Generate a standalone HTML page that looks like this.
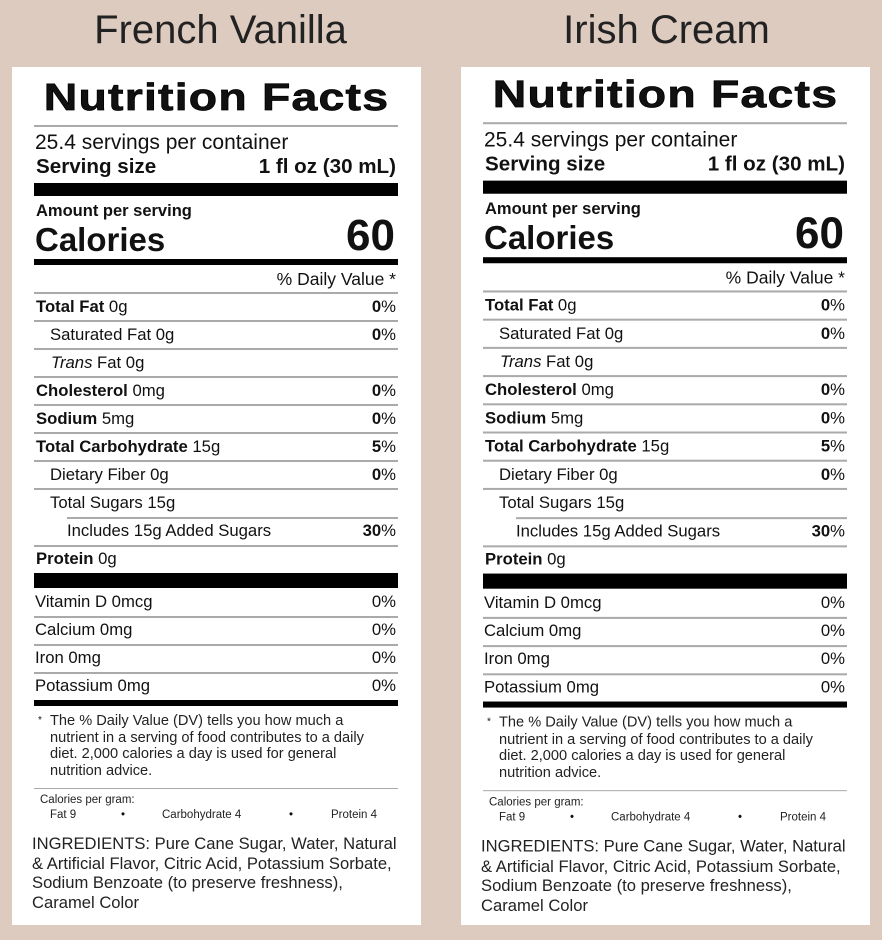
<!DOCTYPE html>
<html><head><meta charset="utf-8"><style>
*{margin:0;padding:0;box-sizing:border-box}
body{width:882px;height:937px;background:#dccbbe;position:relative;overflow:hidden;font-family:"Liberation Sans",Arial,sans-serif;color:#111}
.h{position:absolute;top:8px;width:441px;text-align:center;font-size:40px;line-height:44px;color:#222;font-weight:normal}
.box{position:absolute;top:67px;width:409px;height:858px;background:#fff}
.c{position:absolute;left:0;top:0;width:441px;height:937px}
.t{position:absolute;white-space:nowrap;height:30px;line-height:30px}
.r{right:45px;text-align:right}
.ln{position:absolute;left:34px;width:364px;height:1.5px;background:#aaa}
.bar{position:absolute;left:34px;width:364px;background:#000}
.f16{font-size:16.7px}
.nf{left:0;width:433px;text-align:center;top:80px;height:36px;line-height:36px;font-size:38px;font-weight:900;letter-spacing:1px;transform:scaleX(1.22);-webkit-text-stroke:0.7px #000}
b{font-weight:bold}
</style></head><body>
<div class="h" style="left:0">French Vanilla</div>
<div class="h" style="left:446px">Irish Cream</div>
<div class="box" style="left:12px"></div>
<div class="box" style="left:461px"></div>

<div class="c" id="L">
<div class="t nf">Nutrition Facts</div>
<div class="ln" style="top:125px"></div>
<div class="t" style="left:35px;top:128px;font-size:21px">25.4 servings per container</div>
<div class="t" style="left:36px;top:152px;font-size:20.6px;font-weight:bold">Serving size</div>
<div class="t r" style="top:152px;font-size:20.6px;font-weight:bold">1 fl oz (30 mL)</div>
<div class="bar" style="top:183px;height:13px"></div>
<div class="t" style="left:36px;top:196px;font-size:16.5px;font-weight:bold">Amount per serving</div>
<div class="t" style="left:35px;top:225px;font-size:33px;font-weight:bold">Calories</div>
<div class="t r" style="top:218px;height:36px;line-height:36px;font-size:44px;font-weight:bold;right:46px">60</div>
<div class="bar" style="top:259px;height:6px"></div>
<div class="t r" style="top:264px;font-size:17.5px">% Daily Value *</div>
<div class="ln" style="top:292px"></div>

<div class="t f16" style="left:36px;top:292px"><b>Total Fat</b> 0g</div><div class="t r f16" style="top:292px"><b>0</b>%</div>
<div class="ln" style="top:320px"></div>
<div class="t f16" style="left:50px;top:320px">Saturated Fat 0g</div><div class="t r f16" style="top:320px"><b>0</b>%</div>
<div class="ln" style="top:348px"></div>
<div class="t f16" style="left:51px;top:348px"><i>Trans</i> Fat 0g</div>
<div class="ln" style="top:376px"></div>
<div class="t f16" style="left:36px;top:376px"><b>Cholesterol</b> 0mg</div><div class="t r f16" style="top:376px"><b>0</b>%</div>
<div class="ln" style="top:404px"></div>
<div class="t f16" style="left:36px;top:404px"><b>Sodium</b> 5mg</div><div class="t r f16" style="top:404px"><b>0</b>%</div>
<div class="ln" style="top:432px"></div>
<div class="t f16" style="left:36px;top:432px"><b>Total Carbohydrate</b> 15g</div><div class="t r f16" style="top:432px"><b>5</b>%</div>
<div class="ln" style="top:460px"></div>
<div class="t f16" style="left:50px;top:460px">Dietary Fiber 0g</div><div class="t r f16" style="top:460px"><b>0</b>%</div>
<div class="ln" style="top:488px"></div>
<div class="t f16" style="left:50px;top:488px">Total Sugars 15g</div>
<div class="ln" style="top:517px;left:67px;width:331px"></div>
<div class="t f16" style="left:67px;top:516px">Includes 15g Added Sugars</div><div class="t r f16" style="top:516px"><b>30</b>%</div>
<div class="ln" style="top:545px"></div>
<div class="t f16" style="left:36px;top:544px"><b>Protein</b> 0g</div>
<div class="bar" style="top:573px;height:15px"></div>

<div class="t f16" style="left:35px;top:587px">Vitamin D 0mcg</div><div class="t r f16" style="top:587px">0%</div>
<div class="ln" style="top:616px"></div>
<div class="t f16" style="left:35px;top:615px">Calcium 0mg</div><div class="t r f16" style="top:615px">0%</div>
<div class="ln" style="top:644px"></div>
<div class="t f16" style="left:35px;top:643px">Iron 0mg</div><div class="t r f16" style="top:643px">0%</div>
<div class="ln" style="top:672px"></div>
<div class="t f16" style="left:35px;top:671px">Potassium 0mg</div><div class="t r f16" style="top:671px">0%</div>
<div class="bar" style="top:700px;height:6px"></div>

<div class="t" style="left:38px;top:706px;font-size:10px">*</div>
<div style="position:absolute;left:50px;top:713px;font-size:14.6px;line-height:16.7px;color:#222;white-space:nowrap">The % Daily Value (DV) tells you how much a<br>nutrient in a serving of food contributes to a daily<br>diet. 2,000 calories a day is used for general<br>nutrition advice.</div>
<div class="ln" style="top:788px;height:1px"></div>
<div class="t" style="left:40px;top:785px;font-size:11.5px;color:#222">Calories per gram:</div>
<div class="t" style="left:50px;top:800px;font-size:11.5px;color:#222">Fat 9</div>
<div class="t" style="left:121px;top:800px;font-size:11.5px">•</div>
<div class="t" style="left:162px;top:800px;font-size:11.5px;color:#222">Carbohydrate 4</div>
<div class="t" style="left:289px;top:800px;font-size:11.5px">•</div>
<div class="t" style="left:331px;top:800px;font-size:11.5px;color:#222">Protein 4</div>
<div style="position:absolute;left:32px;top:834px;font-size:16.6px;line-height:19.5px;color:#222;white-space:nowrap">INGREDIENTS: Pure Cane Sugar, Water, Natural<br>&amp; Artificial Flavor, Citric Acid, Potassium Sorbate,<br>Sodium Benzoate (to preserve freshness),<br>Caramel Color</div>
</div>

<div class="c" id="R" style="transform-origin:0 98px;transform:translate(449px,-3px) scaleY(1.0075)">
<div class="t nf">Nutrition Facts</div>
<div class="ln" style="top:125px"></div>
<div class="t" style="left:35px;top:128px;font-size:21px">25.4 servings per container</div>
<div class="t" style="left:36px;top:152px;font-size:20.6px;font-weight:bold">Serving size</div>
<div class="t r" style="top:152px;font-size:20.6px;font-weight:bold">1 fl oz (30 mL)</div>
<div class="bar" style="top:183px;height:13px"></div>
<div class="t" style="left:36px;top:196px;font-size:16.5px;font-weight:bold">Amount per serving</div>
<div class="t" style="left:35px;top:225px;font-size:33px;font-weight:bold">Calories</div>
<div class="t r" style="top:218px;height:36px;line-height:36px;font-size:44px;font-weight:bold;right:46px">60</div>
<div class="bar" style="top:259px;height:6px"></div>
<div class="t r" style="top:264px;font-size:17.5px">% Daily Value *</div>
<div class="ln" style="top:292px"></div>

<div class="t f16" style="left:36px;top:292px"><b>Total Fat</b> 0g</div><div class="t r f16" style="top:292px"><b>0</b>%</div>
<div class="ln" style="top:320px"></div>
<div class="t f16" style="left:50px;top:320px">Saturated Fat 0g</div><div class="t r f16" style="top:320px"><b>0</b>%</div>
<div class="ln" style="top:348px"></div>
<div class="t f16" style="left:51px;top:348px"><i>Trans</i> Fat 0g</div>
<div class="ln" style="top:376px"></div>
<div class="t f16" style="left:36px;top:376px"><b>Cholesterol</b> 0mg</div><div class="t r f16" style="top:376px"><b>0</b>%</div>
<div class="ln" style="top:404px"></div>
<div class="t f16" style="left:36px;top:404px"><b>Sodium</b> 5mg</div><div class="t r f16" style="top:404px"><b>0</b>%</div>
<div class="ln" style="top:432px"></div>
<div class="t f16" style="left:36px;top:432px"><b>Total Carbohydrate</b> 15g</div><div class="t r f16" style="top:432px"><b>5</b>%</div>
<div class="ln" style="top:460px"></div>
<div class="t f16" style="left:50px;top:460px">Dietary Fiber 0g</div><div class="t r f16" style="top:460px"><b>0</b>%</div>
<div class="ln" style="top:488px"></div>
<div class="t f16" style="left:50px;top:488px">Total Sugars 15g</div>
<div class="ln" style="top:517px;left:67px;width:331px"></div>
<div class="t f16" style="left:67px;top:516px">Includes 15g Added Sugars</div><div class="t r f16" style="top:516px"><b>30</b>%</div>
<div class="ln" style="top:545px"></div>
<div class="t f16" style="left:36px;top:544px"><b>Protein</b> 0g</div>
<div class="bar" style="top:573px;height:15px"></div>

<div class="t f16" style="left:35px;top:587px">Vitamin D 0mcg</div><div class="t r f16" style="top:587px">0%</div>
<div class="ln" style="top:616px"></div>
<div class="t f16" style="left:35px;top:615px">Calcium 0mg</div><div class="t r f16" style="top:615px">0%</div>
<div class="ln" style="top:644px"></div>
<div class="t f16" style="left:35px;top:643px">Iron 0mg</div><div class="t r f16" style="top:643px">0%</div>
<div class="ln" style="top:672px"></div>
<div class="t f16" style="left:35px;top:671px">Potassium 0mg</div><div class="t r f16" style="top:671px">0%</div>
<div class="bar" style="top:700px;height:6px"></div>

<div class="t" style="left:38px;top:706px;font-size:10px">*</div>
<div style="position:absolute;left:50px;top:713px;font-size:14.6px;line-height:16.7px;color:#222;white-space:nowrap">The % Daily Value (DV) tells you how much a<br>nutrient in a serving of food contributes to a daily<br>diet. 2,000 calories a day is used for general<br>nutrition advice.</div>
<div class="ln" style="top:788px;height:1px"></div>
<div class="t" style="left:40px;top:785px;font-size:11.5px;color:#222">Calories per gram:</div>
<div class="t" style="left:50px;top:800px;font-size:11.5px;color:#222">Fat 9</div>
<div class="t" style="left:121px;top:800px;font-size:11.5px">•</div>
<div class="t" style="left:162px;top:800px;font-size:11.5px;color:#222">Carbohydrate 4</div>
<div class="t" style="left:289px;top:800px;font-size:11.5px">•</div>
<div class="t" style="left:331px;top:800px;font-size:11.5px;color:#222">Protein 4</div>
<div style="position:absolute;left:32px;top:834px;font-size:16.6px;line-height:19.5px;color:#222;white-space:nowrap">INGREDIENTS: Pure Cane Sugar, Water, Natural<br>&amp; Artificial Flavor, Citric Acid, Potassium Sorbate,<br>Sodium Benzoate (to preserve freshness),<br>Caramel Color</div>
</div>
</body></html>
